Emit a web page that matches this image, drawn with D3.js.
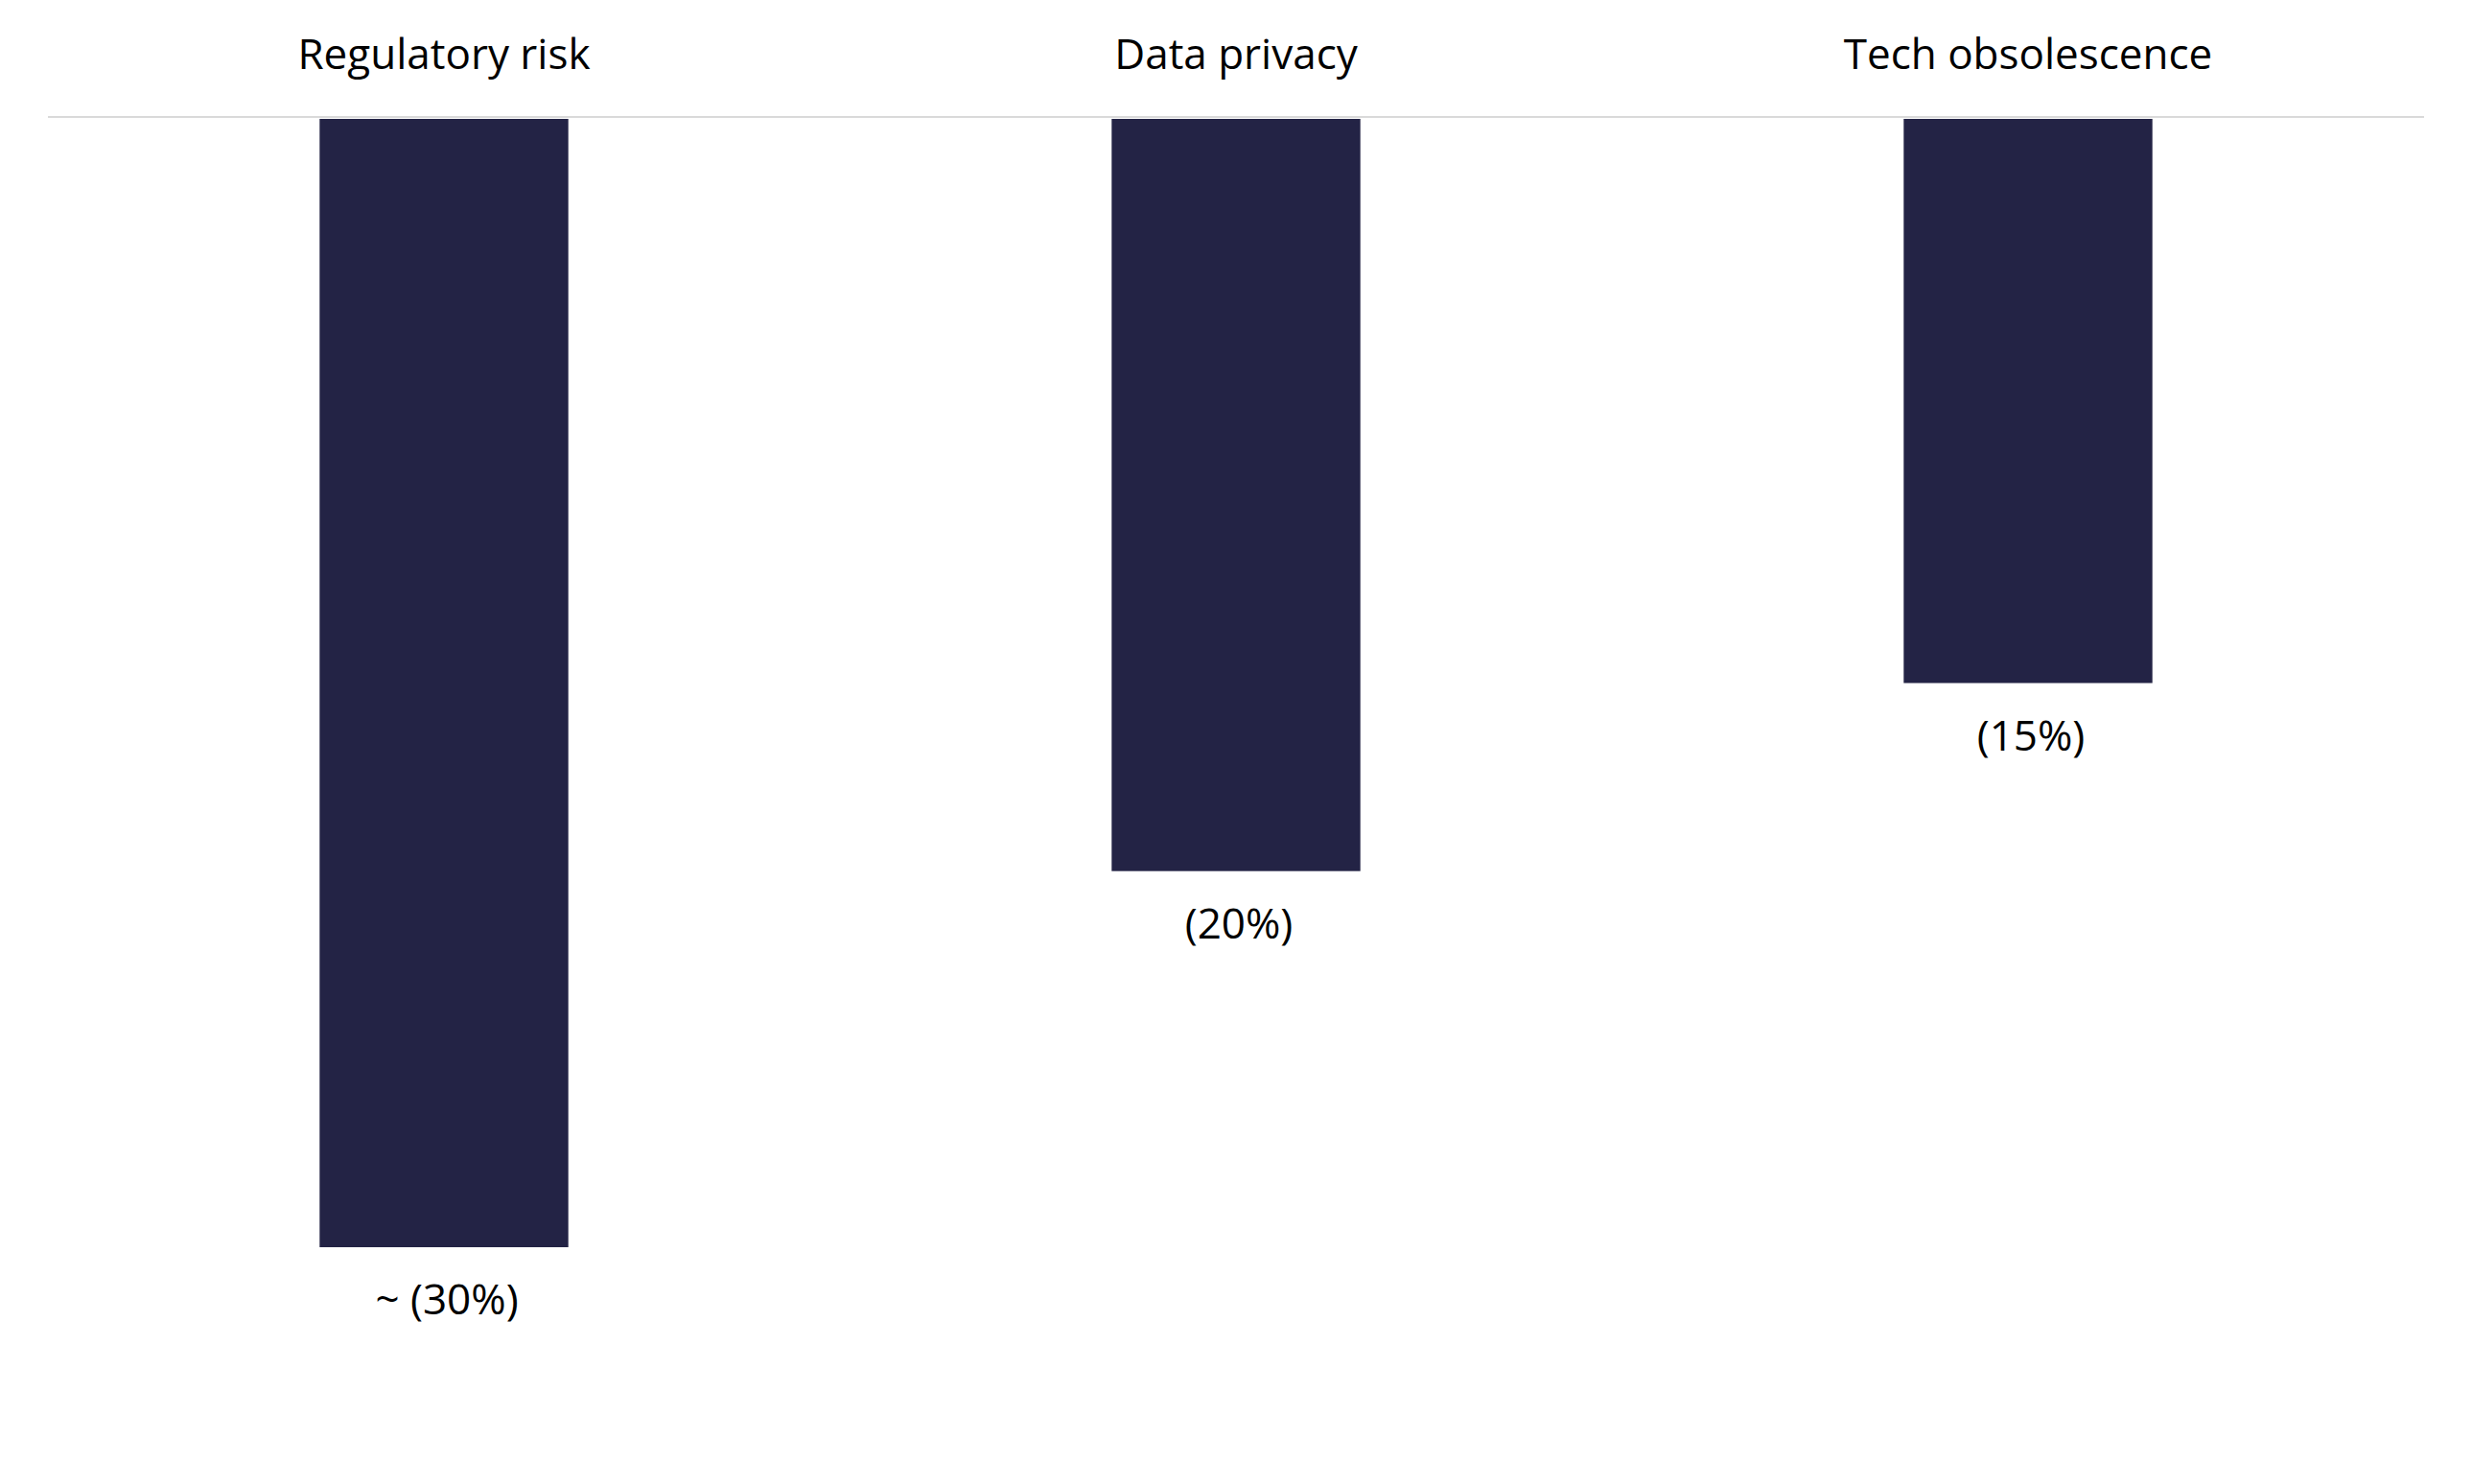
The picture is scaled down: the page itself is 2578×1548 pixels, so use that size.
<!DOCTYPE html>
<html>
<head>
<meta charset="utf-8">
<script src="https://cdn.jsdelivr.net/npm/d3@7"></script>
<style>
  body { margin: 0; background: #fff; }
  text { font-family: "Segoe UI", "Open Sans", "Noto Sans", sans-serif; fill: #000; }
</style>
</head>
<body>
<script>
var w = 2578;
var h = 1548;

// data
var categories = ["Regulatory risk", "Data privacy", "Tech obsolescence"];
var values = [-30, -20, -15];
var valueLabels = ["~ (30%)", "(20%)", "(15%)"];

var margin = {top: 124, left: 50, right: 50};

var svg = d3.select("body").append("svg")
    .attr("width", w)
    .attr("height", h);

var x = d3.scaleBand()
    .domain(categories)
    .range([margin.left, w - margin.right])
    .paddingInner(0.686)
    .paddingOuter(0.343);

// 0 at the top line, about 39.2px per percent
var y = d3.scaleLinear()
    .domain([0, -30])
    .range([margin.top, margin.top + 1177]);

// bars
svg.selectAll("rect.bar")
    .data(values)
    .enter().append("rect")
    .attr("class", "bar")
    .attr("x", function(d, i) { return x(categories[i]); })
    .attr("y", y(0))
    .attr("width", x.bandwidth())
    .attr("height", function(d) { return y(d) - y(0); })
    .attr("fill", "#232345");

// zero line
svg.append("line")
    .attr("x1", margin.left)
    .attr("x2", w - margin.right)
    .attr("y1", y(0) - 2)
    .attr("y2", y(0) - 2)
    .attr("stroke", "#d9d9d9")
    .attr("stroke-width", 2);

// category names on top
svg.selectAll("text.cat")
    .data(categories)
    .enter().append("text")
    .attr("class", "cat")
    .attr("x", function(d) { return x(d) + x.bandwidth() / 2; })
    .attr("y", 72)
    .attr("text-anchor", "middle")
    .style("font-size", "44px")
    .text(function(d) { return d; });

// value labels under bars
svg.selectAll("text.val")
    .data(values)
    .enter().append("text")
    .attr("class", "val")
    .attr("x", function(d, i) { return x(categories[i]) + x.bandwidth() / 2 + 3; })
    .attr("y", function(d) { return y(d) + 70; })
    .attr("text-anchor", "middle")
    .style("font-size", "44px")
    .text(function(d, i) { return valueLabels[i]; });
</script>
</body>
</html>
